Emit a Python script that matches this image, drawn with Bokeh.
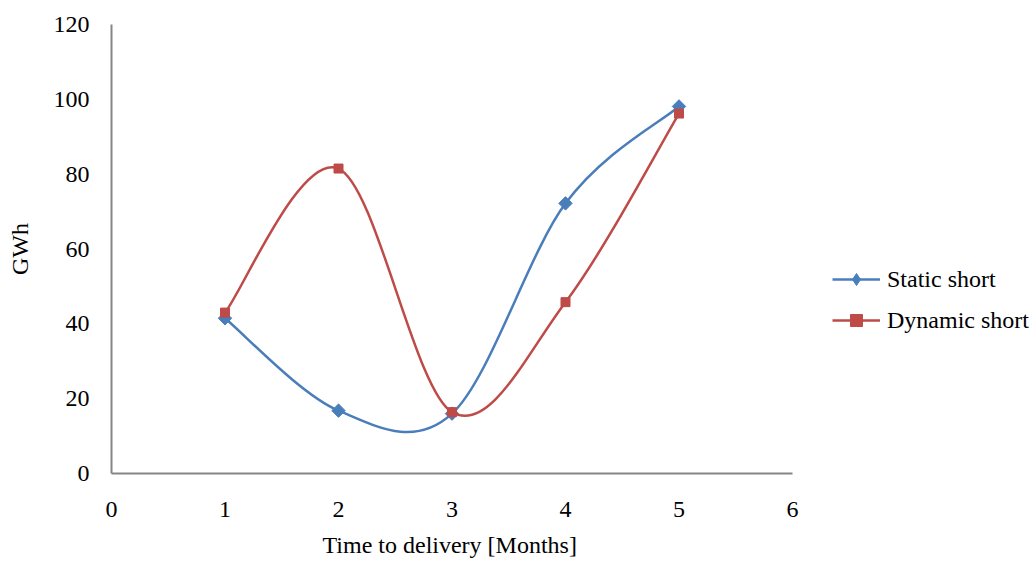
import numpy as np
from bokeh.plotting import figure
from bokeh.models import Legend, LegendItem, FixedTicker, Range1d, ColumnDataSource, Title
from bokeh.embed import file_html
from bokeh.resources import INLINE

# Data: energy (GWh) by time to delivery (months)
months = [1, 2, 3, 4, 5]
static_short = [41.5, 16.8, 16.0, 72.2, 98.1]
dynamic_short = [43.0, 81.5, 16.4, 45.8, 96.2]
x_ticks = [0, 1, 2, 3, 4, 5, 6]
y_ticks = [0, 20, 40, 60, 80, 100, 120]
x_axis_max = 6
y_axis_max = 120

BLUE = "#4A7EBB"
RED = "#BE4B48"
AXIS = "#868686"
FONT = "Liberation Serif"

# Layout (pixels): plot frame runs to the right page edge so the legend
# sits inside it; the x axis line itself stops at x_axis_max.
W, H = 1032, 569
LEFT, TOP, BOTTOM = 111, 24, 96
AXIS_LEN_PX = 681
frame_px = W - LEFT
x_view_max = x_axis_max * frame_px / AXIS_LEN_PX


def smooth_segments(xs, ys, k=1.0 / 6.0):
    """Cubic Bezier segments through the points (Catmull-Rom tangents)."""
    pts = np.column_stack([xs, ys]).astype(float)
    n = len(pts)
    seg = dict(x0=[], y0=[], x1=[], y1=[], cx0=[], cy0=[], cx1=[], cy1=[])
    for i in range(n - 1):
        p_prev = pts[i - 1] if i > 0 else pts[i]
        p_after = pts[i + 2] if i + 2 < n else pts[i + 1]
        c0 = pts[i] + (pts[i + 1] - p_prev) * k
        c1 = pts[i + 1] - (p_after - pts[i]) * k
        seg["x0"].append(pts[i][0]); seg["y0"].append(pts[i][1])
        seg["x1"].append(pts[i + 1][0]); seg["y1"].append(pts[i + 1][1])
        seg["cx0"].append(c0[0]); seg["cy0"].append(c0[1])
        seg["cx1"].append(c1[0]); seg["cy1"].append(c1[1])
    return ColumnDataSource(seg)


p = figure(
    width=W, height=H,
    x_range=Range1d(0, x_view_max), y_range=Range1d(0, y_axis_max),
    output_backend="svg", toolbar_location=None,
    min_border_left=LEFT, min_border_right=0,
    min_border_top=TOP, min_border_bottom=BOTTOM,
)
p.outline_line_color = None
p.grid.visible = False
p.background_fill_color = "white"
p.border_fill_color = "white"

for ax in (p.xaxis[0], p.yaxis[0]):
    ax.axis_line_color = AXIS
    ax.axis_line_width = 2
    ax.major_tick_line_color = None
    ax.minor_tick_line_color = None
    ax.major_tick_in = 0
    ax.major_tick_out = 0
    ax.major_label_text_font = FONT
    ax.major_label_text_font_size = "24px"
    ax.major_label_text_color = "black"
    ax.axis_label_text_font = FONT
    ax.axis_label_text_font_size = "24px"
    ax.axis_label_text_font_style = "normal"
    ax.axis_label_text_color = "black"

p.xaxis.bounds = (0, x_axis_max)
p.xaxis.ticker = FixedTicker(ticks=x_ticks)
p.yaxis.ticker = FixedTicker(ticks=y_ticks)
p.yaxis.axis_label = "GWh"
p.xaxis.major_label_standoff = 28
p.yaxis.major_label_standoff = 22
p.yaxis.axis_label_standoff = 18

# x axis title, centred under the axis line rather than the whole frame
p.add_layout(Title(
    text="Time to delivery [Months]", align="left", offset=211,
    text_font=FONT, text_font_size="24px", text_font_style="normal",
    text_color="black", standoff=20,
), "below")

# Static short: blue smooth line with diamonds
s_line = p.bezier(x0="x0", y0="y0", x1="x1", y1="y1", cx0="cx0", cy0="cy0",
                  cx1="cx1", cy1="cy1", source=smooth_segments(months, static_short),
                  line_color=BLUE, line_width=2.5)
# narrow diamond under each marker; also serves as the legend key
s_key = p.scatter(months, static_short, marker="diamond", size=12,
                  fill_color=BLUE, line_color=BLUE)
s_mark = p.scatter(months, static_short, marker="square", size=9.5, angle=np.pi / 4,
                   fill_color=BLUE, line_color=BLUE)

# Dynamic short: red smooth line with squares
d_line = p.bezier(x0="x0", y0="y0", x1="x1", y1="y1", cx0="cx0", cy0="cy0",
                  cx1="cx1", cy1="cy1", source=smooth_segments(months, dynamic_short),
                  line_color=RED, line_width=2.5)
d_mark = p.scatter(months, dynamic_short, marker="square", size=9,
                   fill_color=RED, line_color=RED)

legend = Legend(
    items=[
        LegendItem(label="Static short", renderers=[s_line, s_key]),
        LegendItem(label="Dynamic short", renderers=[d_line, d_mark]),
    ],
    location=(721, 138),
    orientation="vertical",
    padding=0, margin=0, spacing=11,
    glyph_width=48, glyph_height=30,
    label_height=30, label_standoff=7,
    label_text_font=FONT, label_text_font_size="24px",
    label_text_color="black",
    border_line_color=None, background_fill_alpha=0,
)
p.add_layout(legend)

open("out.html", "w").write(file_html(p, INLINE))
